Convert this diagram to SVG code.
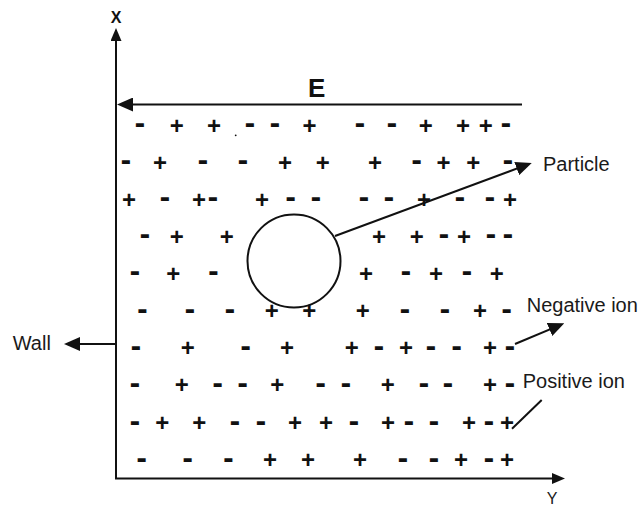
<svg xmlns="http://www.w3.org/2000/svg" width="639" height="508" viewBox="0 0 639 508">
<style>
.ln{stroke:#111;stroke-width:2;fill:none}
.lbl{font-family:"Liberation Sans",Arial,sans-serif;font-size:20px;fill:#1a1a1a}
.row{fill:#111;text-anchor:middle}
.p{font-family:"Liberation Sans",Arial,sans-serif;font-weight:bold;font-size:24px}
.m{font-family:"DejaVu Sans",sans-serif;font-weight:bold;font-size:26px}
</style>
<defs>
<marker id="ah" markerUnits="userSpaceOnUse" markerWidth="13" markerHeight="11" refX="9" refY="5.5" orient="auto" viewBox="0 0 13 11">
<path d="M0,0 L13,5.5 L0,11 z" fill="#111"/>
</marker>
<marker id="ahL" markerUnits="userSpaceOnUse" markerWidth="16" markerHeight="14" refX="12" refY="7" orient="auto" viewBox="0 0 16 14">
<path d="M0,0 L16,7 L0,14 z" fill="#111"/>
</marker>
</defs>

<g id="connectors">
<line class="ln" x1="116" y1="479" x2="116" y2="32" marker-end="url(#ah)"/>
<line class="ln" x1="115" y1="478.5" x2="561" y2="478.5" marker-end="url(#ah)"/>
<line class="ln" x1="522" y1="104.5" x2="121" y2="104.5" marker-end="url(#ahL)"/>
<line class="ln" x1="116" y1="344" x2="68" y2="344" marker-end="url(#ahL)"/>
<line class="ln" x1="335" y1="236" x2="528" y2="164.4" marker-end="url(#ahL)"/>
<line class="ln" x1="515" y1="344" x2="560.6" y2="324.9" marker-end="url(#ahL)"/>
<line class="ln" x1="541.7" y1="400" x2="512" y2="428.7"/>
</g>

<g id="axis-labels">
<text x="116" y="22.7" font-family="'Liberation Sans',Arial,sans-serif" font-weight="bold" font-size="16" text-anchor="middle" fill="#111">X</text>
<text x="552" y="504" font-family="'Liberation Sans',Arial,sans-serif" font-size="16" text-anchor="middle" fill="#1a1a1a">Y</text>
<text x="308" y="97" font-family="'Liberation Sans',Arial,sans-serif" font-weight="bold" font-size="26" fill="#111">E</text>
</g>

<g id="particle">
<circle cx="294" cy="261" r="46.5" class="ln"/>
</g>

<g id="labels">
<text class="lbl" x="543" y="170.7">Particle</text>
<text class="lbl" x="526.7" y="311.7">Negative ion</text>
<text class="lbl" x="522.7" y="388.3">Positive ion</text>
<text class="lbl" x="12.7" y="350">Wall</text>
</g>

<g id="ions">
<circle cx="235.7" cy="135.3" r="0.9" fill="#111"/>
<text id="row1" class="row"><tspan class="m" x="140" y="133">-</tspan><tspan class="p" x="176.7" y="133.5">+</tspan><tspan class="p" x="214" y="133.5">+</tspan><tspan class="m" x="250" y="133">-</tspan><tspan class="m" x="275" y="133">-</tspan><tspan class="p" x="309.5" y="133.5">+</tspan><tspan class="m" x="360" y="133">-</tspan><tspan class="m" x="392" y="133">-</tspan><tspan class="p" x="425.7" y="133.5">+</tspan><tspan class="p" x="463" y="133.5">+</tspan><tspan class="p" x="485.7" y="133.5">+</tspan><tspan class="m" x="506" y="133">-</tspan></text>
<text id="row2" class="row"><tspan class="m" x="126" y="170">-</tspan><tspan class="p" x="160" y="170.5">+</tspan><tspan class="m" x="203" y="170">-</tspan><tspan class="m" x="243" y="170">-</tspan><tspan class="p" x="285" y="170.5">+</tspan><tspan class="p" x="322.7" y="170.5">+</tspan><tspan class="p" x="375" y="170.5">+</tspan><tspan class="m" x="416.7" y="170">-</tspan><tspan class="p" x="443.5" y="170.5">+</tspan><tspan class="p" x="473.3" y="170.5">+</tspan><tspan class="m" x="508" y="170">-</tspan></text>
<text id="row3" class="row"><tspan class="p" x="129" y="207.5">+</tspan><tspan class="m" x="165" y="207">-</tspan><tspan class="p" x="199" y="207.5">+</tspan><tspan class="m" x="213" y="207">-</tspan><tspan class="p" x="262" y="207.5">+</tspan><tspan class="m" x="290.7" y="207">-</tspan><tspan class="m" x="316" y="207">-</tspan><tspan class="m" x="364" y="207">-</tspan><tspan class="m" x="389" y="207">-</tspan><tspan class="p" x="424" y="207.5">+</tspan><tspan class="m" x="460" y="207">-</tspan><tspan class="m" x="490" y="207">-</tspan><tspan class="p" x="510" y="207.5">+</tspan></text>
<text id="row4" class="row"><tspan class="m" x="145" y="244">-</tspan><tspan class="p" x="176.7" y="244.5">+</tspan><tspan class="p" x="226.7" y="244.5">+</tspan><tspan class="p" x="379" y="244.5">+</tspan><tspan class="p" x="416.7" y="244.5">+</tspan><tspan class="m" x="444" y="244">-</tspan><tspan class="p" x="464" y="244.5">+</tspan><tspan class="m" x="491" y="244">-</tspan><tspan class="m" x="508" y="244">-</tspan></text>
<text id="row5" class="row"><tspan class="m" x="135" y="281">-</tspan><tspan class="p" x="173.3" y="281.5">+</tspan><tspan class="m" x="213.3" y="281">-</tspan><tspan class="p" x="366" y="281.5">+</tspan><tspan class="m" x="406" y="281">-</tspan><tspan class="p" x="436" y="281.5">+</tspan><tspan class="m" x="467" y="281">-</tspan><tspan class="p" x="496.7" y="281.5">+</tspan></text>
<text id="row6" class="row"><tspan class="m" x="142.5" y="318.7">-</tspan><tspan class="m" x="190" y="318.7">-</tspan><tspan class="m" x="230" y="318.7">-</tspan><tspan class="p" x="271.7" y="319.2">+</tspan><tspan class="p" x="309.3" y="319.2">+</tspan><tspan class="p" x="362.7" y="319.2">+</tspan><tspan class="m" x="405" y="318.7">-</tspan><tspan class="m" x="445" y="318.7">-</tspan><tspan class="p" x="480" y="319.2">+</tspan><tspan class="m" x="506.7" y="318.7">-</tspan></text>
<text id="row7" class="row"><tspan class="m" x="136" y="355.5">-</tspan><tspan class="p" x="187.7" y="356">+</tspan><tspan class="m" x="245.7" y="355.5">-</tspan><tspan class="p" x="287" y="356">+</tspan><tspan class="p" x="351.7" y="356">+</tspan><tspan class="m" x="379" y="355.5">-</tspan><tspan class="p" x="406" y="356">+</tspan><tspan class="m" x="431" y="355.5">-</tspan><tspan class="m" x="456.7" y="355.5">-</tspan><tspan class="p" x="490" y="356">+</tspan><tspan class="m" x="510" y="355.5">-</tspan></text>
<text id="row8" class="row"><tspan class="m" x="135" y="392.5">-</tspan><tspan class="p" x="181.7" y="393">+</tspan><tspan class="m" x="217.7" y="392.5">-</tspan><tspan class="m" x="242.7" y="392.5">-</tspan><tspan class="p" x="277.3" y="393">+</tspan><tspan class="m" x="320.7" y="392.5">-</tspan><tspan class="m" x="346" y="392.5">-</tspan><tspan class="p" x="387.7" y="393">+</tspan><tspan class="m" x="424" y="392.5">-</tspan><tspan class="m" x="448" y="392.5">-</tspan><tspan class="p" x="490" y="393">+</tspan><tspan class="m" x="510" y="392.5">-</tspan></text>
<text id="row9" class="row"><tspan class="m" x="135" y="430.7">-</tspan><tspan class="p" x="162.3" y="431.2">+</tspan><tspan class="p" x="199.3" y="431.2">+</tspan><tspan class="m" x="235" y="430.7">-</tspan><tspan class="m" x="261" y="430.7">-</tspan><tspan class="p" x="295" y="431.2">+</tspan><tspan class="p" x="326" y="431.2">+</tspan><tspan class="m" x="354" y="430.7">-</tspan><tspan class="p" x="388" y="431.2">+</tspan><tspan class="m" x="409" y="430.7">-</tspan><tspan class="m" x="434" y="430.7">-</tspan><tspan class="p" x="469" y="431.2">+</tspan><tspan class="m" x="489" y="430.7">-</tspan><tspan class="p" x="507" y="431.2">+</tspan></text>
<text id="row10" class="row"><tspan class="m" x="141.7" y="467.5">-</tspan><tspan class="m" x="187.7" y="467.5">-</tspan><tspan class="m" x="228.3" y="467.5">-</tspan><tspan class="p" x="270" y="468">+</tspan><tspan class="p" x="308" y="468">+</tspan><tspan class="p" x="360" y="468">+</tspan><tspan class="m" x="403" y="467.5">-</tspan><tspan class="m" x="434" y="467.5">-</tspan><tspan class="p" x="461" y="468">+</tspan><tspan class="m" x="489" y="467.5">-</tspan><tspan class="p" x="507" y="468">+</tspan></text>
</g>
</svg>
